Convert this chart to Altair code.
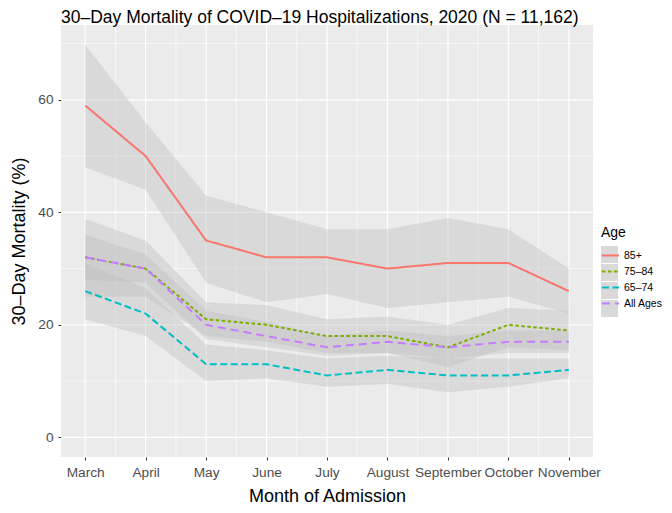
import altair as alt
import pandas as pd

months = ["March", "April", "May", "June", "July", "August", "September", "October", "November"]
groups = ["85+", "75–84", "65–74", "All Ages"]
colors = ["#F8766D", "#7CAE00", "#00BFC4", "#C77CFF"]
dashes = [[1, 0], [3.5, 2.5], [7, 3.5], [8, 5]]

mort_85 = [59, 50, 35, 32, 32, 30, 31, 31, 26]
lo_85 = [48, 44, 27.5, 24, 25.5, 23, 24, 25, 22]
hi_85 = [69.8, 56, 43, 40, 37, 37, 39, 37, 30]

mort_75 = [32, 30, 21, 20, 18, 18, 16, 20, 19]
lo_75 = [25, 25, 18, 17, 15, 15, 12.5, 16, 15.5]
hi_75 = [38.8, 35, 24, 23.5, 21, 21.5, 20, 23, 22.5]

mort_65 = [26, 22, 13, 13, 11, 12, 11, 11, 12]
lo_65 = [21, 18, 10, 10.5, 9, 9.5, 8, 9, 10.5]
hi_65 = [31, 26.5, 16.5, 15.5, 14, 14.5, 14, 14, 14]

mort_all = [32, 30, 20, 18, 16, 17, 16, 17, 17]
lo_all = [28, 27.5, 17.5, 16, 14.5, 15, 14, 15, 15]
hi_all = [36, 32.5, 22.5, 20.5, 18, 19, 18, 19, 19]

grid_y_major = [0, 20, 40, 60]
grid_y_minor = [10, 30, 50, 70]
grid_x_major = [0, 1, 2, 3, 4, 5, 6, 7, 8]
grid_x_minor = [0.5, 1.5, 2.5, 3.5, 4.5, 5.5, 6.5, 7.5]

series = [
    (groups[0], mort_85, lo_85, hi_85),
    (groups[1], mort_75, lo_75, hi_75),
    (groups[2], mort_65, lo_65, hi_65),
    (groups[3], mort_all, lo_all, hi_all),
]
rows = []
for g, m, lo, hi in series:
    for i in range(len(months)):
        rows.append({"idx": i, "Age": g, "Key": g + " ", "value": m[i], "lo": lo[i], "hi": hi[i]})
df = pd.DataFrame(rows)
key_domain = [g + " " for g in groups]

FONT = "Liberation Sans"
month_arr = "[" + ",".join("'" + m + "'" for m in months) + "]"

x_axis = alt.Axis(
    values=grid_x_major,
    labelExpr=month_arr + "[datum.value]",
    title="Month of Admission",
    grid=False,
    tickColor="#333333",
    tickSize=3,
    domain=False,
    labelColor="#4D4D4D",
    labelFont=FONT,
    labelFontSize=13.7,
    labelPadding=5,
    labelAngle=0,
    labelOverlap=False,
    titleFont=FONT,
    titleFontSize=18,
    titleFontWeight="normal",
    titleColor="black",
    titlePadding=9,
)
y_axis = alt.Axis(
    values=grid_y_major,
    title="30–Day Mortality (%)",
    grid=False,
    tickColor="#333333",
    tickSize=3,
    domain=False,
    labelColor="#4D4D4D",
    labelFont=FONT,
    labelFontSize=13.7,
    labelPadding=5,
    titleFont=FONT,
    titleFontSize=18,
    titleFontWeight="normal",
    titleColor="black",
    titlePadding=9,
)

xs = alt.Scale(domain=[-0.4, 8.4], nice=False, zero=False)
ys = alt.Scale(domain=[-3.49, 73.3], nice=False, zero=False)


def hrules(vals, w):
    return alt.Chart(pd.DataFrame({"v": vals})).mark_rule(color="white", strokeWidth=w).encode(
        y=alt.Y("v:Q", scale=ys, axis=y_axis)
    )


def vrules(vals, w):
    return alt.Chart(pd.DataFrame({"v": vals})).mark_rule(color="white", strokeWidth=w).encode(
        x=alt.X("v:Q", scale=xs, axis=x_axis)
    )


base = alt.Chart(df)

bands = base.mark_area(fill="#BEBEBE", opacity=0.4).encode(
    x=alt.X("idx:Q", scale=xs, axis=x_axis),
    y=alt.Y("lo:Q", scale=ys, axis=y_axis, stack=None),
    y2="hi:Q",
    detail="Age:N",
)

LEG_X = 540
LEG_Y = 201
common = dict(
    orient="none",
    legendX=LEG_X,
    legendY=LEG_Y,
    symbolSize=289,
    titleFont=FONT,
    titleFontSize=14,
    titleFontWeight="normal",
    titleColor="black",
    labelFont=FONT,
    labelFontSize=10.5,
    labelColor="black",
    labelOffset=4,
    rowPadding=1,
    titlePadding=6,
)

key_legend = alt.Legend(
    title=" ", symbolType="square", symbolStrokeWidth=0, labelExpr="''", **common
)
line_legend = alt.Legend(title="Age", symbolType="stroke", symbolStrokeWidth=2, **common)

# grey key backgrounds of the legend (no marks drawn: rows filtered out)
keys = base.transform_filter("datum.idx < 0").mark_square(opacity=1).encode(
    x=alt.X("idx:Q", scale=xs, axis=x_axis),
    y=alt.Y("value:Q", scale=ys, axis=y_axis),
    color=alt.Color("Key:N", scale=alt.Scale(domain=key_domain, range=["#D9D9D9"] * 4), legend=key_legend, sort=key_domain),
)

lines = base.mark_line(strokeWidth=2).encode(
    x=alt.X("idx:Q", scale=xs, axis=x_axis),
    y=alt.Y("value:Q", scale=ys, axis=y_axis),
    stroke=alt.Stroke("Age:N", scale=alt.Scale(domain=groups, range=colors), legend=line_legend, sort=groups),
    strokeDash=alt.StrokeDash("Age:N", scale=alt.Scale(domain=groups, range=dashes), legend=line_legend, sort=groups),
)

chart = (
    alt.layer(
        hrules(grid_y_minor, 0.6),
        vrules(grid_x_minor, 0.6),
        hrules(grid_y_major, 1.2),
        vrules(grid_x_major, 1.2),
        bands,
        keys,
        lines,
    )
    .properties(
        width=532,
        height=432,
        background="white",
        title=alt.TitleParams(
            "30–Day Mortality of COVID–19 Hospitalizations, 2020 (N = 11,162)",
            anchor="start",
            frame="group",
            font=FONT,
            fontSize=17.5,
            fontWeight="normal",
            color="black",
            offset=-2,
        ),
        autosize=alt.AutoSizeParams(type="none"),
        padding={"left": 53, "top": 17, "right": 71, "bottom": 48},
    )
    .configure_view(fill="#EBEBEB", strokeWidth=0)
)

chart.save("out.html", embed_options={"renderer": "svg", "actions": False})
